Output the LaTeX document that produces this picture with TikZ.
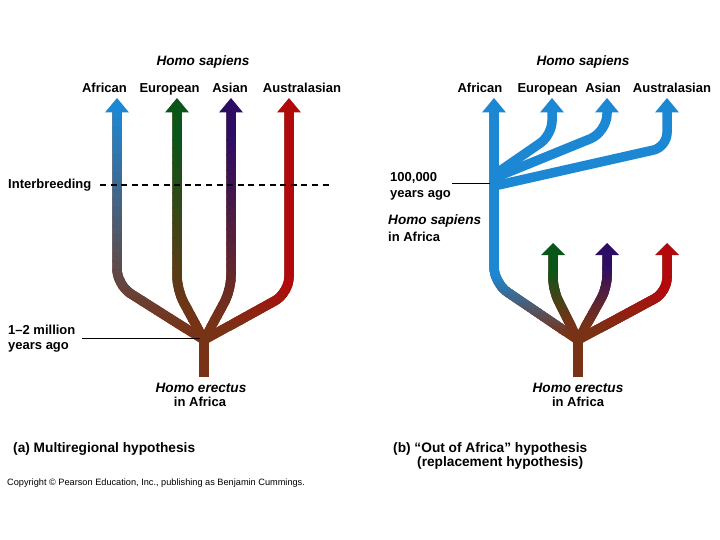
\documentclass[tikz,border=0pt]{standalone}
\usepackage{fontspec}
\setmainfont{Liberation Sans}
\definecolor{brn}{RGB}{120,50,22}
\definecolor{cblue}{RGB}{28,136,212}
\definecolor{cgreen}{RGB}{10,85,25}
\definecolor{cpurple}{RGB}{45,12,100}
\definecolor{cred}{RGB}{178,10,12}
\tikzset{
  shaft/.style={line width=9.5pt},
  lbl/.style={font=\fontsize{13}{15}\selectfont\bfseries, anchor=base, inner sep=0pt},
  lbll/.style={lbl, anchor=base west},
  itl/.style={font=\fontsize{13.6}{15}\selectfont\bfseries\itshape, anchor=base, inner sep=0pt},
  itll/.style={itl, anchor=base west},
  capt/.style={font=\fontsize{13.7}{15}\selectfont\bfseries, anchor=base west, inner sep=0pt},
  pointer/.style={line width=0.9pt, black},
}
% gradient branch: #1 colour, #2 y of full colour, #3 y of full brown, #4 corner radius, #5 path
\newcommand\gbranch[5]{%
  \draw[shaft, brn, rounded corners=#4] #5;
  \begin{scope}\clip (0,0) rectangle (720,#2+0.6);
    \draw[shaft, #1, rounded corners=#4] #5;
  \end{scope}
  \foreach \k in {0,...,24}{%
    \pgfmathsetmacro\ya{#2+(#3-#2)*\k/25}%
    \pgfmathsetmacro\yb{#2+(#3-#2)*(\k+1)/25+0.6}%
    \pgfmathtruncatemacro\pc{100-100*(\k+0.5)/25}%
    \begin{scope}\clip (0,\ya) rectangle (720,\yb);
      \draw[shaft, #1!\pc!brn, rounded corners=#4] #5;
    \end{scope}
  }%
}
\newcommand\ahead[4]{% #1 colour, #2 x, #3 tip y, #4 base y
  \fill[#1] (#2-12,#4) -- (#2,#3) -- (#2+12,#4) -- cycle;
}
\begin{document}
\begin{tikzpicture}[x=1pt,y=-1pt]
\useasboundingbox[fill=white] (0,0) rectangle (720,540);

% ---------- panel (a) ----------
\gbranch{cblue}{110}{332}{16}{(117,110) -- (117,285) -- (204,340)}
\gbranch{cgreen}{140}{328}{14}{(177,110) -- (177,290) -- (204,340)}
\gbranch{cpurple}{140}{325}{14}{(231,110) -- (231,290) -- (204,340)}
\gbranch{cred}{285}{330}{16}{(289,110) -- (289,293) -- (204,340)}
\draw[shaft, brn] (204,333) -- (204,377);
\ahead{cblue}{117}{98}{112.5}
\ahead{cgreen}{177}{98}{112.5}
\ahead{cpurple}{231}{98}{112.5}
\ahead{cred}{289}{98}{112.5}
\draw[line width=1.2pt, dash pattern=on 6pt off 4.6pt] (100,185) -- (333,185);

\coordinate (jA) at (200,338.5);
\draw[pointer] (82,338.5) -- (jA);

\node[itl] (hsA) at (203,66) {Homo sapiens};
\node[lbl] (afA) at (104.5,92.5) {African};
\node[lbl] (euA) at (169.5,92.5) {European};
\node[lbl] (asA) at (230,92.5) {Asian};
\node[lbl] (auA) at (302,92.5) {Australasian};
\node[lbll] (ib) at (8,188.5) {Interbreeding};
\node[lbll] (mA1) at (8,334.3) {1–2 million};
\node[lbll] (mA2) at (8,349.3) {years ago};
\node[itl] (heA1) at (201,392.3) {Homo erectus};
\node[lbl] (heA2) at (200,406.7) {in Africa};
\node[capt] (capA) at (13,452.3) {(a) Multiregional hypothesis};
\node[font=\fontsize{9.2}{10}\selectfont, anchor=base west, inner sep=0pt] (copy) at (7,485)
  {Copyright © Pearson Education, Inc., publishing as Benjamin Cummings.};

% ---------- panel (b) ----------
\draw[shaft, cblue, rounded corners=14] (552,110) -- (552,135) -- (494,175);
\draw[shaft, cblue, rounded corners=18] (607,110) -- (607,132) -- (494,178);
\draw[shaft, cblue, rounded corners=14] (667,110) -- (667,147) -- (494,186);
\gbranch{cblue}{275}{335}{16}{(494,110) -- (494,283) -- (578,340)}
\gbranch{cgreen}{270}{325}{12}{(553,250) -- (553,290) -- (578,340)}
\gbranch{cpurple}{265}{325}{12}{(607,250) -- (607,288) -- (578,340)}
\gbranch{cred}{290}{332}{14}{(667,250) -- (667,292) -- (578,340)}
\draw[shaft, brn] (578,333) -- (578,377);
\ahead{cblue}{494}{98}{112.5}
\ahead{cblue}{552}{98}{112.5}
\ahead{cblue}{607}{98}{112.5}
\ahead{cblue}{667}{98}{112.5}
\ahead{cgreen}{553}{243}{255}
\ahead{cpurple}{607}{243}{255}
\ahead{cred}{667}{243}{255}

\coordinate (jB) at (490,183.3);
\draw[pointer] (452,183.3) -- (jB);

\node[itl] (hsB) at (583,66) {Homo sapiens};
\node[lbl] (afB) at (480,92.5) {African};
\node[lbl] (euB) at (547.5,92.5) {European};
\node[lbl] (asB) at (603,92.5) {Asian};
\node[lbl] (auB) at (672,92.5) {Australasian};
\node[lbll] (kB1) at (390,181.7) {100,000};
\node[lbll] (kB2) at (390,197) {years ago};
\node[itll] (hsB1) at (388,225) {Homo sapiens};
\node[lbll] (hsB2) at (388,241.5) {in Africa};
\node[itl] (heB1) at (578,392.3) {Homo erectus};
\node[lbl] (heB2) at (578,406.7) {in Africa};
\node[capt] (capB1) at (393,452.3) {(b) “Out of Africa” hypothesis};
\node[capt] (capB2) at (417,466) {(replacement hypothesis)};
\end{tikzpicture}
\end{document}
